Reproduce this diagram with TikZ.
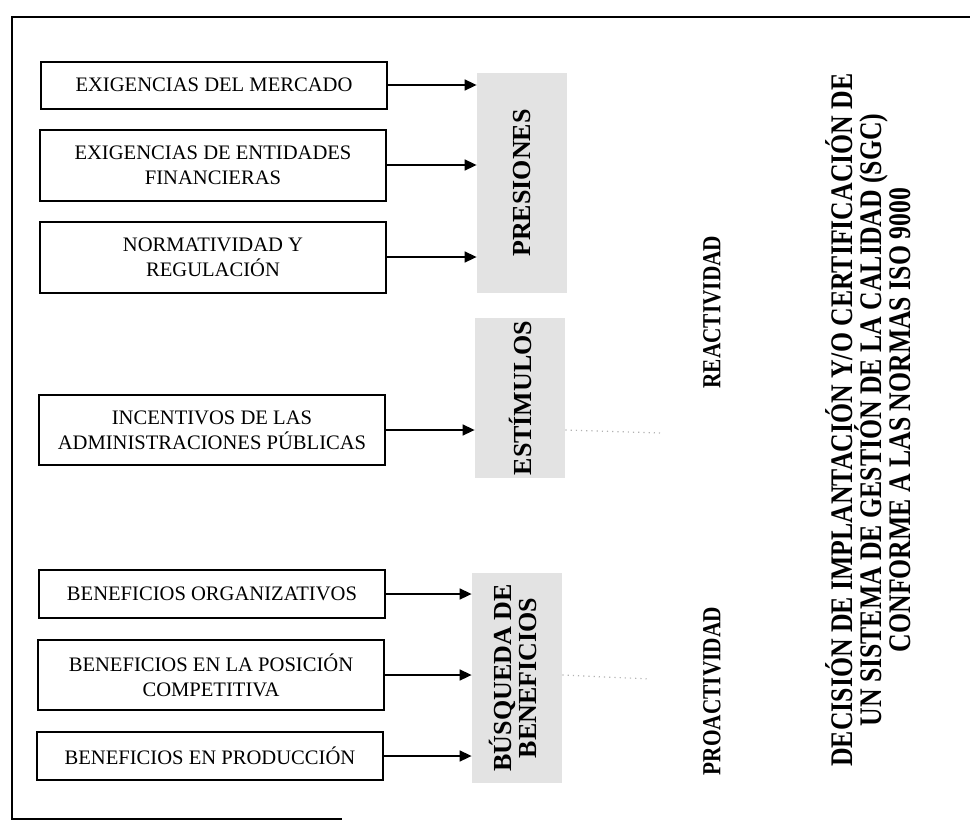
\documentclass[tikz,border=0pt]{standalone}
\usepackage{fontspec}
\setmainfont{Liberation Serif}
\newfontfamily\estrecha[FakeStretch=0.82]{Liberation Serif}
\usetikzlibrary{arrows.meta}

\begin{document}
\begin{tikzpicture}[x=0.5pt,y=-0.5pt,
    factor/.style={draw,line width=1pt,minimum width=173pt,align=center,
      inner sep=2pt,font=\fontsize{10.3}{12.5}\selectfont},
    zona/.style={fill=black!11,minimum width=45pt,inner sep=0pt,
      font=\bfseries\fontsize{13}{12.5}\selectfont},
    actitud/.style={rotate=90,font=\estrecha\bfseries\fontsize{13}{15}\selectfont},
    flecha/.style={line width=0.8pt,-{Triangle[length=6pt,width=5.5pt]}},
    tenue/.style={black!30,dotted,line width=0.6pt}]
  \useasboundingbox (0,0) rectangle (970,825);
  % marco
  \draw[line width=0.9pt] (970,17) -- (12,17) -- (12,819) -- (342,819);

  \node[factor,minimum height=23.5pt] (mercado)      at (214,85)  {EXIGENCIAS DEL MERCADO};
  \node[factor,minimum height=35.5pt] (financieras)  at (213,165) {EXIGENCIAS DE ENTIDADES\\FINANCIERAS};
  \node[factor,minimum height=35.5pt] (normatividad) at (213,257) {NORMATIVIDAD Y\\REGULACIÓN};
  \node[factor,minimum height=35pt]   (incentivos)   at (212,430) {INCENTIVOS DE LAS\\ADMINISTRACIONES PÚBLICAS};
  \node[factor,minimum height=24pt]   (organizativos) at (212,594) {BENEFICIOS ORGANIZATIVOS};
  \node[factor,minimum height=35pt]   (competitiva)  at (211,675) {BENEFICIOS EN LA POSICIÓN\\COMPETITIVA};
  \node[factor,minimum height=24pt]   (produccion)   at (210,756) {BENEFICIOS EN PRODUCCIÓN};

  \node[zona,minimum height=110pt] (presiones) at (522,183)
    {\rotatebox{90}{PRESIONES}};
  \node[zona,minimum height=80pt]  (estimulos) at (520,398)
    {\rotatebox{90}{ESTÍMULOS}};
  \node[zona,minimum height=105pt] (busqueda)  at (517,678)
    {\rotatebox{90}{\begin{tabular}{@{}c@{}}BÚSQUEDA DE\\BENEFICIOS\end{tabular}}};

  \node[actitud] (reactividad)  at (712,312) {REACTIVIDAD};
  \node[actitud] (proactividad) at (712,691) {PROACTIVIDAD};
  \node[rotate=90,align=center,font=\estrecha\bfseries\fontsize{15.7}{14.6}\selectfont]
    (decision) at (868,420)
    {DECISIÓN DE IMPLANTACIÓN Y/O CERTIFICACIÓN DE\\
     UN SISTEMA DE GESTIÓN DE LA CALIDAD (SGC)\\
     CONFORME A LAS NORMAS ISO 9000};

  \draw[flecha] (mercado.east)       -- (mercado.east -| presiones.west);
  \draw[flecha] (financieras.east)   -- (financieras.east -| presiones.west);
  \draw[flecha] (normatividad.east)  -- (normatividad.east -| presiones.west);
  \draw[flecha] (incentivos.east)    -- (incentivos.east -| estimulos.west);
  \draw[flecha] (organizativos.east) -- (organizativos.east -| busqueda.west);
  \draw[flecha] (competitiva.east)   -- (competitiva.east -| busqueda.west);
  \draw[flecha] (produccion.east)    -- (produccion.east -| busqueda.west);

  %% casi borradas en el original
  \coordinate (r1) at (660,433);
  \coordinate (p1) at (650,679);
  \draw[tenue] (incentivos.east -| estimulos.east) -- (r1);
  \draw[tenue] (competitiva.east -| busqueda.east) -- (p1);
\end{tikzpicture}
\end{document}
